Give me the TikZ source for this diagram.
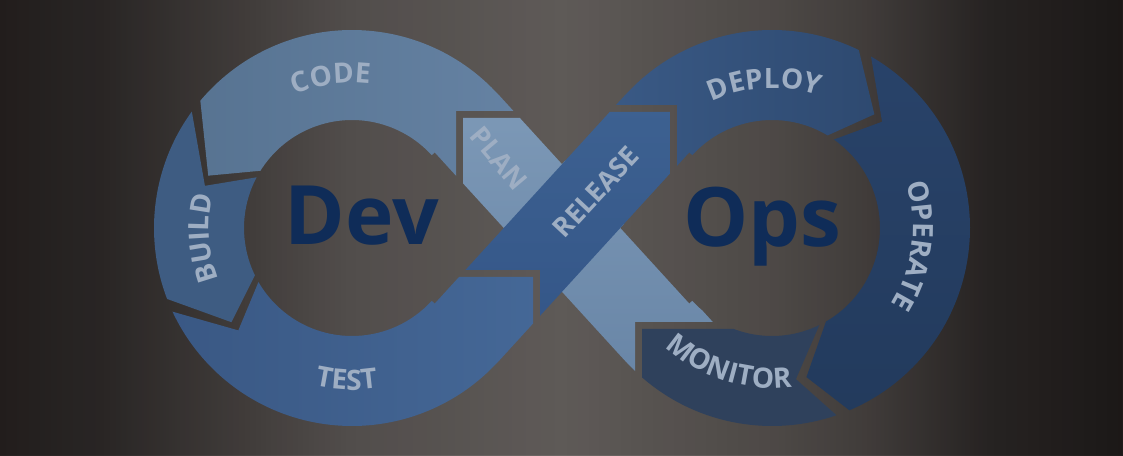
\documentclass[tikz,border=0pt]{standalone}
\usepackage{fontspec}
\setmainfont{Open Sans}
\usepackage{tikz}
\usetikzlibrary{calc,decorations.text,fadings}

\definecolor{bgcentre}{HTML}{6C6764}
\definecolor{bgdev}{HTML}{5D5856}
\definecolor{bgops}{HTML}{585350}
\definecolor{bgleftmid}{HTML}{4A4543}
\definecolor{bgrightmid}{HTML}{4A4543}
\definecolor{bgleftdark}{HTML}{2F2B2A}
\definecolor{bgrightdark}{HTML}{2C2827}
\definecolor{bgleftedge}{HTML}{272221}
\definecolor{bgrightedge}{HTML}{201C1B}
\definecolor{codeleft}{HTML}{55718F}
\definecolor{coderight}{HTML}{6784A5}
\definecolor{buildblue}{HTML}{3E5C82}
\definecolor{testleft}{HTML}{395783}
\definecolor{testright}{HTML}{456897}
\definecolor{plantop}{HTML}{7C98B6}
\definecolor{planbottom}{HTML}{6986A7}
\definecolor{releasetop}{HTML}{3D6191}
\definecolor{releasebottom}{HTML}{335587}
\definecolor{deployleft}{HTML}{3A5A86}
\definecolor{deployright}{HTML}{2D486E}
\definecolor{operatetop}{HTML}{29436A}
\definecolor{operatebottom}{HTML}{223A5C}
\definecolor{monitorblue}{HTML}{2F415C}
\definecolor{lbl}{HTML}{9EAEC3}
\definecolor{word}{HTML}{0F2C58}

% the picture spans 25bp..75bp of the shading
\pgfdeclarehorizontalshading{bgband}{100bp}{color(0bp)=(bgleftedge); color(25bp)=(bgleftedge);
  color(29.5bp)=(bgleftdark); color(36bp)=(bgleftmid); color(40.5bp)=(bgdev); color(50bp)=(bgcentre);
  color(59.5bp)=(bgops); color(63.5bp)=(bgrightmid); color(69bp)=(bgrightdark);
  color(75bp)=(bgrightedge); color(100bp)=(bgrightedge)}
\tikzfading[name=topbottom, top color=transparent!0, middle color=transparent!100, bottom color=transparent!0]

\newcommand\lblfont{\fontsize{28}{28}\selectfont\bfseries}
% outline of the whole loop: two open rings and two crossing bands
\newcommand\loopclip{%
  \clip ([shift={(C1)}]42.4:198) arc[start angle=42.4, end angle=317.6, radius=198]
        -- ([shift={(C1)}]317.6:108) arc[start angle=317.6, end angle=42.4, radius=108] -- cycle
        ([shift={(C2)}]-137.6:198) arc[start angle=-137.6, end angle=137.6, radius=198]
        -- ([shift={(C2)}]137.6:108) arc[start angle=137.6, end angle=-137.6, radius=108] -- cycle
        (la) -- (lb) -- (lc) -- (ld) -- cycle
        (ra) -- (rb) -- (rc) -- (rd) -- cycle;}

\begin{document}
\begin{tikzpicture}[x=1pt, y=1pt,
    ringlabel/.style={decorate, decoration={text along path, text align=center,
                      text color=lbl, text={|\lblfont|#1}}},
    bandlabel/.style={text=lbl, font=\fontsize{27}{27}\selectfont\bfseries, inner sep=0},
    bigword/.style={text=word, font=\fontsize{82}{82}\selectfont\bfseries, inner sep=0, anchor=base},
  ]
  \useasboundingbox (0,0) rectangle (1123,455);
  \clip (0,0) rectangle (1123,455);
  \shade[shading=bgband] (0,0) rectangle (1123,455);
  \fill[black, opacity=0.12, path fading=topbottom] (0,0) rectangle (1123,455);

  \coordinate (C1) at (352,227);
  \coordinate (C2) at (772,227);
  \coordinate (O) at (562,227);
  \coordinate (la) at (434.7,302.6);
  \coordinate (lb) at (625.7,93.4);
  \coordinate (lc) at (689.3,151.4);
  \coordinate (ld) at (498.3,360.6);
  \coordinate (ra) at (689.3,302.6);
  \coordinate (rb) at (625.7,360.6);
  \coordinate (rc) at (434.7,151.4);
  \coordinate (rd) at (498.3,93.4);

  % code
  \begin{scope}
    \clip (C1) -- ([shift={(C1)}]148:108) -- ([shift={(C1)}]160:153) -- ([shift={(C1)}]140:198)
          -- ([shift={(C1)}]140:330) -- (352,600) -- (560,600) -- (560,344) -- (456,344) -- (456,227) -- cycle;
    \loopclip
    \shade[left color=codeleft, right color=coderight] (150,200) rectangle (560,440);
  \end{scope}
  % build
  \begin{scope}
    \clip (C1) -- ([shift={(C1)}]152:108) -- ([shift={(C1)}]164:153) -- ([shift={(C1)}]144:198)
          -- ([shift={(C1)}]144:330) -- (-100,227) -- ([shift={(C1)}]201:330) -- ([shift={(C1)}]201:198)
          -- ([shift={(C1)}]218:153) -- ([shift={(C1)}]206:108) -- cycle;
    \loopclip
    \fill[buildblue] (0,0) rectangle (600,455);
  \end{scope}
  % test
  \begin{scope}
    \clip (C1) -- ([shift={(C1)}]210:108) -- ([shift={(C1)}]222:153) -- ([shift={(C1)}]205:198)
          -- ([shift={(C1)}]205:330) -- (352,-200) -- (533,-200) -- (533,178) -- (420,178) -- cycle;
    \loopclip
    \shade[left color=testleft, right color=testright] (150,20) rectangle (545,240);
  \end{scope}
  % plan
  \begin{scope}
    \clip ($(O)+(132.4:320)+(222.4:43)$) -- ($(O)+(-47.6:320)+(222.4:43)$)
          -- ($(O)+(-47.6:320)+(42.4:48)$) -- ($(O)+(132.4:320)+(42.4:48)$) -- cycle;
    \clip (463,-100) -- (463,337) -- (1200,337) -- (1200,133) -- (635,133) -- (635,-100) -- cycle;
    \loopclip
    \shade[top color=plantop, bottom color=planbottom] (440,80) rectangle (720,345);
  \end{scope}
  % release
  \begin{scope}
    \clip ($(O)+(227.6:320)+(317.6:43)$) -- ($(O)+(47.6:320)+(317.6:43)$)
          -- ($(O)+(47.6:320)+(137.6:43)$) -- ($(O)+(227.6:320)+(137.6:43)$) -- cycle;
    \clip (-100,343) -- (670,343) -- (670,-100) -- (540,-100) -- (540,185) -- (-100,185) -- cycle;
    \loopclip
    \shade[top color=releasetop, bottom color=releasebottom] (430,100) rectangle (680,350);
  \end{scope}
  % deploy
  \begin{scope}
    \clip (C2) -- ([shift={(C2)}]59:108) -- ([shift={(C2)}]48:153) -- ([shift={(C2)}]64:198)
          -- ([shift={(C2)}]64:330) -- (772,600) -- (560,600) -- (560,350) -- (677,350) -- (677,227) -- cycle;
    \loopclip
    \shade[left color=deployleft, right color=deployright] (600,260) rectangle (900,440);
  \end{scope}
  % operate
  \begin{scope}
    \clip (C2) -- ([shift={(C2)}]55:108) -- ([shift={(C2)}]44:153) -- ([shift={(C2)}]60:198)
          -- ([shift={(C2)}]60:330) -- (1300,227) -- ([shift={(C2)}]-67:330) -- ([shift={(C2)}]-67:198)
          -- ([shift={(C2)}]-77:153) -- ([shift={(C2)}]-60:108) -- cycle;
    \loopclip
    \shade[top color=operatetop, bottom color=operatebottom] (780,20) rectangle (980,420);
  \end{scope}
  % monitor
  \begin{scope}
    \clip (C2) -- ([shift={(C2)}]-64:108) -- ([shift={(C2)}]-81:153) -- ([shift={(C2)}]-71:198)
          -- ([shift={(C2)}]-71:330) -- (642,-200) -- (642,126) -- (745,126) -- cycle;
    \loopclip
    \fill[monitorblue] (600,0) rectangle (900,200);
  \end{scope}

  \node[bigword] (dev) at (362,210) {Dev};
  \node[bigword] (ops) at (762,208) {Ops};
  \node[bandlabel, rotate=-50] (plan) at (499,297) {PLAN};
  \node[bandlabel, rotate=47] (release) at (596,263) {RELEASE};

  \path[ringlabel=CODE] ([shift={(C1)}]128:145) arc[start angle=128, end angle=68, radius=145];
  \path[ringlabel=BUILD] ([shift={(C1)}]214:143) arc[start angle=214, end angle=154, radius=143];
  \path[ringlabel=TEST] ([shift={(C1)}]240:162) arc[start angle=240, end angle=296, radius=162];
  \path[ringlabel=DEPLOY] ([shift={(C2)}]128:140) arc[start angle=128, end angle=58, radius=140];
  \path[ringlabel=OPERATE] ([shift={(C2)}]35:141) arc[start angle=35, end angle=-49, radius=141];
  \path[ringlabel=MONITOR] ([shift={(C2)}]215:160) arc[start angle=215, end angle=290, radius=160];
\end{tikzpicture}
\end{document}
